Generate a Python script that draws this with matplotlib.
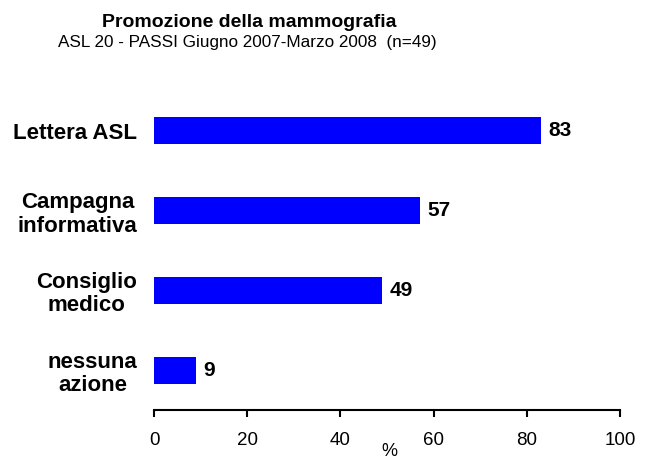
import matplotlib
matplotlib.use('Agg')
import matplotlib.pyplot as plt

plt.rcParams['font.family'] = ['Liberation Sans', 'DejaVu Sans']

# Mammography promotion data (%)
categories = ['Lettera ASL', 'Campagna\ninformativa', 'Consiglio\nmedico', 'nessuna\nazione']
values = [83, 57, 49, 9]
ticks = [0, 20, 40, 60, 80, 100]

fig = plt.figure(figsize=(6.48, 4.59), dpi=100)
ax = fig.add_axes([0.2377, 0.1068, 0.957 - 0.2377, 0.8017 - 0.1068])

pos = list(range(len(categories)))[::-1]
ax.barh(pos, values, height=0.34, color='#0000FF')

for p, v in zip(pos, values):
    ax.annotate(str(v), (v, p), xytext=(5.5, 0), textcoords='offset points',
                va='center', ha='left', fontsize=15, fontweight='bold')

ax.set_xlim(0, 100)
ax.set_ylim(-0.5, 3.5)
ax.set_xticks(ticks)
ax.tick_params(axis='x', labelsize=13.5, width=1.5, length=5, pad=11)
ax.set_yticks(pos)
ax.set_yticklabels(categories, fontsize=16, fontweight='bold',
                   multialignment='center', linespacing=1.15)
ax.tick_params(axis='y', length=0, pad=12)

for s in ['top', 'right', 'left']:
    ax.spines[s].set_visible(False)
ax.spines['bottom'].set_linewidth(1.5)

ax.set_xlabel('%', fontsize=13)
ax.xaxis.set_label_coords(0.504, -0.104)

fig.text(0.384, 0.952, 'Promozione della mammografia', ha='center', va='center',
         fontsize=14, fontweight='bold')
fig.text(0.381, 0.908, 'ASL 20 - PASSI Giugno 2007-Marzo 2008  (n=49)', ha='center',
         va='center', fontsize=12.3)

fig.savefig('out.png', dpi=100)
